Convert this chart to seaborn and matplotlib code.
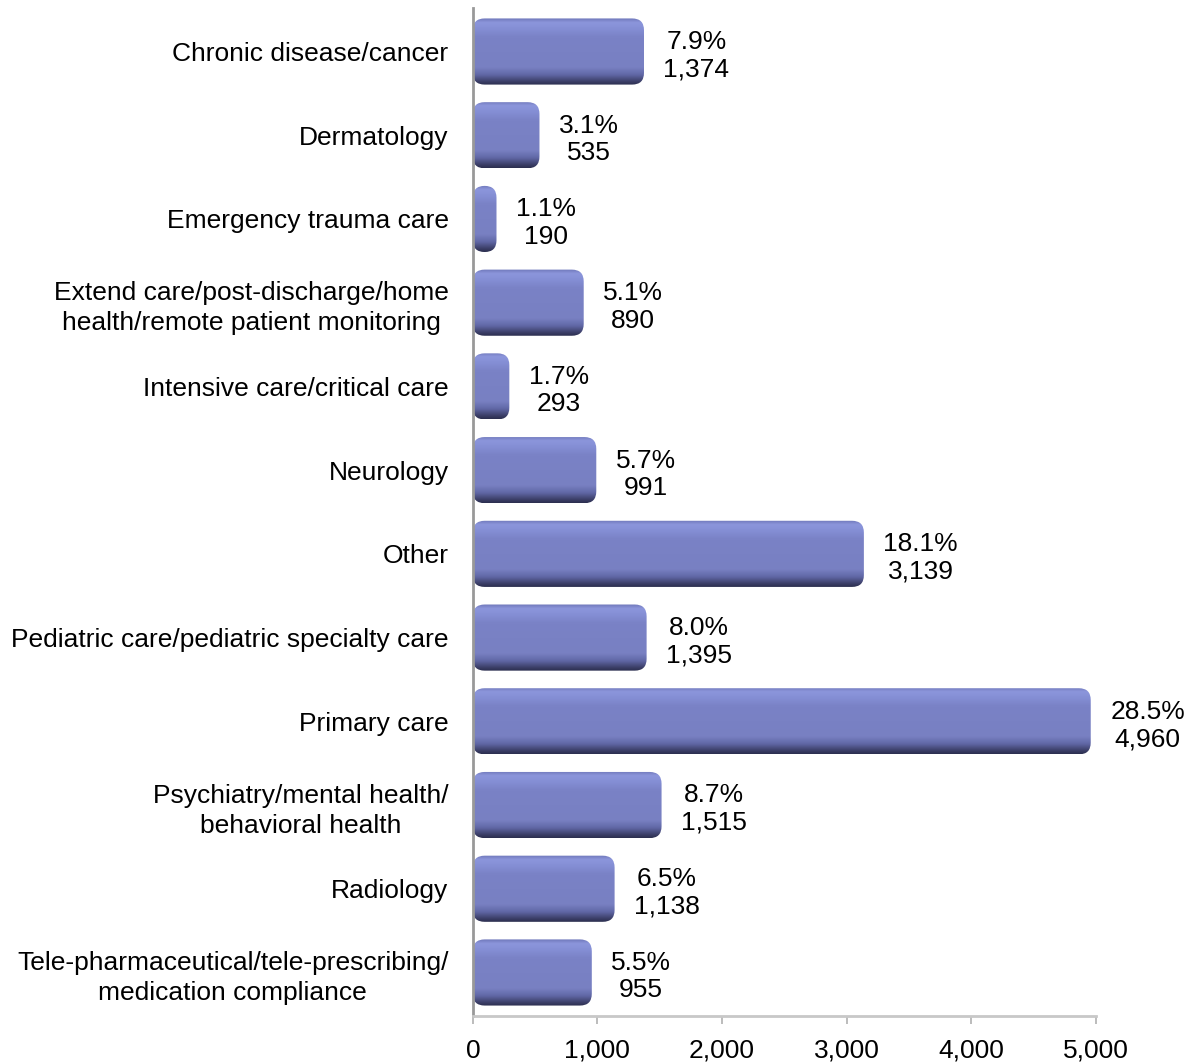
import numpy as np
import pandas as pd
import seaborn as sns
import matplotlib.pyplot as plt
from matplotlib.patches import FancyBboxPatch
from matplotlib.colors import LinearSegmentedColormap

categories = [
    "Chronic disease/cancer",
    "Dermatology",
    "Emergency trauma care",
    "Extend care/post-discharge/home\nhealth/remote patient monitoring",
    "Intensive care/critical care",
    "Neurology",
    "Other",
    "Pediatric care/pediatric specialty care",
    "Primary care",
    "Psychiatry/mental health/\nbehavioral health",
    "Radiology",
    "Tele-pharmaceutical/tele-prescribing/\nmedication compliance",
]
counts = [1374, 535, 190, 890, 293, 991, 3139, 1395, 4960, 1515, 1138, 955]
percents = ["7.9%", "3.1%", "1.1%", "5.1%", "1.7%", "5.7%",
            "18.1%", "8.0%", "28.5%", "8.7%", "6.5%", "5.5%"]

df = pd.DataFrame({"category": categories, "count": counts})

sns.set_style("white")
plt.rcParams["font.family"] = ["Liberation Sans", "DejaVu Sans"]
plt.rcParams["text.color"] = "black"
plt.rcParams["xtick.labelcolor"] = "black"
plt.rcParams["ytick.labelcolor"] = "black"

fig = plt.figure(figsize=(11.91, 10.63), dpi=100)
ax = fig.add_axes([0.397, 0.0442, 0.523, 0.9483])

sns.barplot(data=df, y="category", x="count", orient="h", color="#7a82c6",
            width=0.79, ax=ax)

# bevelled, rounded bars
grad_cmap = LinearSegmentedColormap.from_list("bevel", [
    (0.0, "#7078ba"), (0.06, "#8c96dc"), (0.16, "#848ed4"), (0.28, "#7a82c6"),
    (0.74, "#7880c2"), (0.85, "#6168a6"), (0.94, "#40446f"), (1.0, "#2c2f50")])
grad = np.linspace(0, 1, 100).reshape(-1, 1)
aspect = (1 / 84.0) / (5000 / 623.0)
for p in list(ax.patches):
    x0, y0, w, h = p.get_x(), p.get_y(), p.get_width(), p.get_height()
    p.set_visible(False)
    box = FancyBboxPatch((x0, y0), w, h,
                         boxstyle="round,pad=0,rounding_size=%f" % min(95, w / 2),
                         mutation_aspect=aspect, facecolor="none",
                         edgecolor="none", zorder=2)
    ax.add_patch(box)
    im = ax.imshow(grad, cmap=grad_cmap, extent=[x0, x0 + w, y0 + h, y0],
                   origin="upper", aspect="auto", zorder=2, interpolation="bicubic")
    im.set_clip_path(box)

ax.set_xlim(0, 5000)
ax.set_ylim(11.52, -0.52)

for i, (c, pc) in enumerate(zip(counts, percents)):
    ax.annotate(f"{pc}\n{c:,}", xy=(c, i), xytext=(14, -3),
                textcoords="offset points", ha="left", va="center",
                multialignment="center", linespacing=1.18, fontsize=19,
                color="black")

ax.set_xticks(range(0, 5001, 1000))
ax.set_xticklabels([f"{v:,}" for v in range(0, 5001, 1000)], fontsize=19)
ax.tick_params(axis="x", bottom=True, length=6, width=1.2, color="#b0b0b0", pad=10.5)
ax.tick_params(axis="y", left=False, labelsize=19, pad=14)
ax.set_xlabel("")
ax.set_ylabel("")
for lbl in ax.get_yticklabels():
    lbl.set_multialignment("center")
    lbl.set_linespacing(1.32)

for s in ["top", "right"]:
    ax.spines[s].set_visible(False)
ax.spines["left"].set_color("#999999")
ax.spines["left"].set_linewidth(2)
ax.spines["bottom"].set_color("#c8c8c8")
ax.spines["bottom"].set_linewidth(2)

fig.savefig("out.png", dpi=100)
